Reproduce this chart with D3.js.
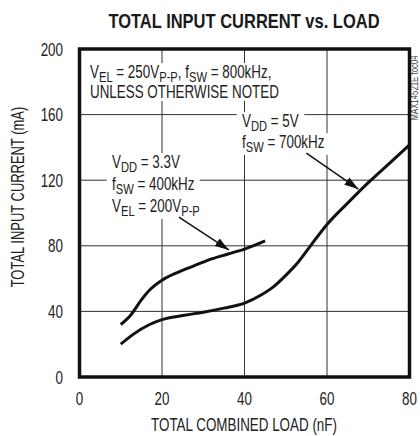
<!DOCTYPE html>
<html>
<head>
<meta charset="utf-8">
<script src="https://cdn.jsdelivr.net/npm/d3@7"></script>
<style>
  body { margin: 0; background: #fff; }
  svg text { font-family: "Liberation Sans Narrow", "Arial Narrow", "Liberation Sans", sans-serif; fill: #222; }
</style>
</head>
<body>
<div id="chart"></div>
<script>
// data
const xTicks = [0, 20, 40, 60, 80];
const yTicks = [0, 40, 80, 120, 160, 200];

// VDD = 3.3V, fSW = 400kHz, VEL = 200Vp-p
const load33 = [10, 12.5, 15, 17, 20, 24, 28, 32, 36, 40, 45];
const curr33 = [32, 38, 47, 53, 59, 64, 68, 72, 75, 78, 83];

// VDD = 5V, fSW = 700kHz
const load5 = [10, 13, 17, 20, 25, 30, 35, 40, 44, 47, 50, 53, 56, 60, 65, 70, 75, 80];
const curr5 = [20, 26, 32, 35, 37.5, 39.5, 42, 45, 50, 55, 62, 70, 80, 93, 106, 118.5, 130, 141.5];

const width = 420;
const height = 436;
const narrow = 0.745; // no condensed font installed, squeeze horizontally
const fs = 18;
const x = d3.scaleLinear().domain([0, 80]).range([79.5, 409.5]);
const y = d3.scaleLinear().domain([0, 200]).range([377, 49]);

const svg = d3
  .select("#chart")
  .append("svg")
  .attr("width", width)
  .attr("height", height);

// text placed in its own group so it can be squeezed
function txt(tx, ty, str, size, anchor, rot, sx) {
  const g = svg
    .append("g")
    .attr(
      "transform",
      `translate(${tx},${ty})` + (rot ? ` rotate(${rot})` : "") + ` scale(${sx || narrow},1)`
    );
  return g
    .append("text")
    .attr("text-anchor", anchor || "start")
    .style("font-size", size + "px")
    .text(str);
}

// title
txt(244, 28, "TOTAL INPUT CURRENT vs. LOAD", 20.5, "middle", 0, 0.805)
  .style("font-weight", "bold")
  .style("fill", "#1a1a1a");

// grid lines
const grid = svg.append("g").attr("stroke", "#333").attr("stroke-width", 1);
grid
  .selectAll(".gx")
  .data(xTicks.slice(1, -1))
  .join("line")
  .attr("x1", (d) => x(d))
  .attr("x2", (d) => x(d))
  .attr("y1", y(200))
  .attr("y2", y(0));
grid
  .selectAll(".gy")
  .data(yTicks.slice(1, -1))
  .join("line")
  .attr("x1", x(0))
  .attr("x2", x(80))
  .attr("y1", (d) => y(d))
  .attr("y2", (d) => y(d));

// tick labels
xTicks.forEach((d) => txt(x(d), 405, d, fs, "middle"));
yTicks.forEach((d) => txt(63, y(d) + 6.5, d, fs, "end"));

// axis titles
txt(244, 431, "TOTAL COMBINED LOAD (nF)", fs, "middle");
txt(24, 197, "TOTAL INPUT CURRENT (mA)", fs, "middle", -90, 0.72);

// side code
txt(418, 88, "MAX14521E toc04", 10.5, "middle", -90).style("fill", "#444");

// annotations: each line is a list of [text, isSubscript]
function label(lines, tx, ty, lineGap) {
  lines.forEach((segs, i) => {
    const g = svg
      .append("g")
      .attr("transform", `translate(${tx},${ty + i * lineGap}) scale(${narrow},1)`);
    const bg = g.append("rect").attr("fill", "#fff");
    const t = g.append("text").style("font-size", fs + "px");
    let down = false;
    segs.forEach(([s, sub]) => {
      const sp = t.append("tspan").text(s);
      if (sub && !down) {
        sp.attr("dy", 3.5).style("font-size", "15px");
        down = true;
      } else if (sub) {
        sp.style("font-size", "15px");
      } else if (down) {
        sp.attr("dy", -3.5);
        down = false;
      }
    });
    const b = t.node().getBBox();
    bg.attr("x", b.x - 7)
      .attr("y", b.y + 1)
      .attr("width", b.width + 14)
      .attr("height", b.height - 1);
  });
}

label(
  [
    [["V"], ["EL", true], [" = 250V"], ["P-P", true], [", f"], ["SW", true], [" = 800kHz,"]],
    [["UNLESS OTHERWISE NOTED"]],
  ],
  90, 78, 19.5
);
label(
  [
    [["V"], ["DD", true], [" = 5V"]],
    [["f"], ["SW", true], [" = 700kHz"]],
  ],
  242, 127, 21
);
label(
  [
    [["V"], ["DD", true], [" = 3.3V"]],
    [["f"], ["SW", true], [" = 400kHz"]],
    [["V"], ["EL", true], [" = 200V"], ["P-P", true]],
  ],
  112, 168, 22
);

// arrows
svg
  .append("defs")
  .append("marker")
  .attr("id", "head")
  .attr("viewBox", "0 0 14 9")
  .attr("refX", 14)
  .attr("refY", 4.5)
  .attr("markerWidth", 14)
  .attr("markerHeight", 9)
  .attr("markerUnits", "userSpaceOnUse")
  .attr("orient", "auto")
  .append("path")
  .attr("d", "M0,0L14,4.5L0,9Z")
  .attr("fill", "#111");

const arrows = [
  [[24.1, 97.5], [36.2, 77.5]],
  [[55, 136.5], [67.6, 114.6]],
];
svg
  .append("g")
  .selectAll("line")
  .data(arrows)
  .join("line")
  .attr("x1", (d) => x(d[0][0]))
  .attr("y1", (d) => y(d[0][1]))
  .attr("x2", (d) => x(d[1][0]))
  .attr("y2", (d) => y(d[1][1]))
  .attr("stroke", "#111")
  .attr("stroke-width", 1.5)
  .attr("marker-end", "url(#head)");

// curves
const line = d3
  .line()
  .x((d) => x(d[0]))
  .y((d) => y(d[1]))
  .curve(d3.curveMonotoneX);

svg
  .append("g")
  .selectAll("path")
  .data([d3.zip(load33, curr33), d3.zip(load5, curr5)])
  .join("path")
  .attr("d", line)
  .attr("fill", "none")
  .attr("stroke", "#111")
  .attr("stroke-width", 3);

// frame
svg
  .append("rect")
  .attr("x", x(0))
  .attr("y", y(200))
  .attr("width", x(80) - x(0))
  .attr("height", y(0) - y(200))
  .attr("fill", "none")
  .attr("stroke", "#111")
  .attr("stroke-width", 3.5);
</script>
</body>
</html>
